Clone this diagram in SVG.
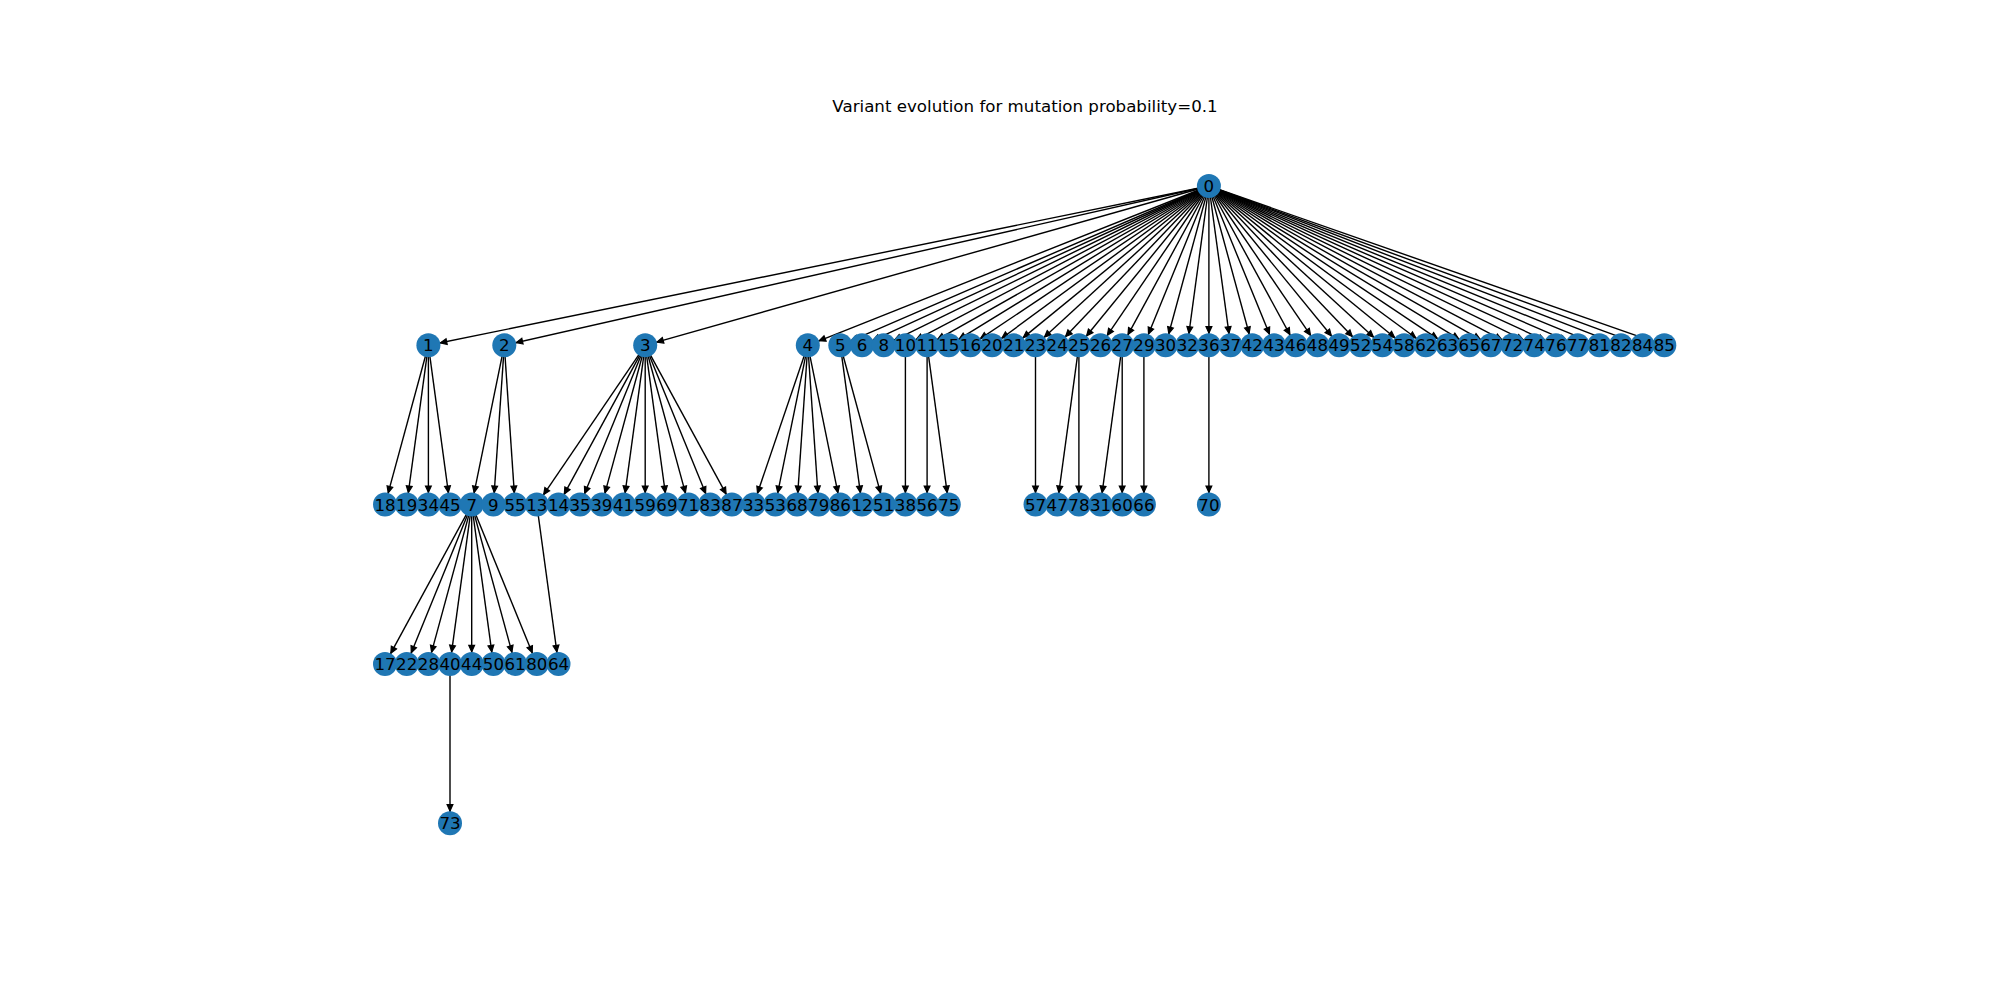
<svg xmlns="http://www.w3.org/2000/svg" width="2000" height="1000" viewBox="0 0 2000 1000">
<style>
.n circle{fill:#1f77b4}
.n text{font-family:"DejaVu Sans","Liberation Sans",sans-serif;font-size:16.67px;fill:#000;text-anchor:middle}
#edges line{stroke:#000;stroke-width:1.4;fill:none;marker-end:url(#ah)}
.title{font-family:"DejaVu Sans","Liberation Sans",sans-serif;font-size:16.67px;fill:#000;text-anchor:middle}
</style>
<defs>
<marker id="ah" markerUnits="userSpaceOnUse" orient="auto" refX="0" refY="0" markerWidth="1" markerHeight="1" overflow="visible">
<path d="M-18.6,-2.9 L-12.2,0 L-18.6,2.9 Z" fill="#000" stroke="#000" stroke-width="1.2" stroke-linejoin="miter"/>
</marker>
</defs>
<rect width="2000" height="1000" fill="#fff"/>
<text class="title" x="1025" y="112">Variant evolution for mutation probability=0.1</text>
<g id="edges">
<line x1="1208.9" y1="186" x2="428.4" y2="345.3"/>
<line x1="1208.9" y1="186" x2="504.3" y2="345.3"/>
<line x1="1208.9" y1="186" x2="645.2" y2="345.3"/>
<line x1="1208.9" y1="186" x2="807.8" y2="345.3"/>
<line x1="1208.9" y1="186" x2="840.3" y2="345.3"/>
<line x1="1208.9" y1="186" x2="862.0" y2="345.3"/>
<line x1="1208.9" y1="186" x2="883.7" y2="345.3"/>
<line x1="1208.9" y1="186" x2="905.4" y2="345.3"/>
<line x1="1208.9" y1="186" x2="927.1" y2="345.3"/>
<line x1="1208.9" y1="186" x2="948.8" y2="345.3"/>
<line x1="1208.9" y1="186" x2="970.4" y2="345.3"/>
<line x1="1208.9" y1="186" x2="992.1" y2="345.3"/>
<line x1="1208.9" y1="186" x2="1013.8" y2="345.3"/>
<line x1="1208.9" y1="186" x2="1035.5" y2="345.3"/>
<line x1="1208.9" y1="186" x2="1057.2" y2="345.3"/>
<line x1="1208.9" y1="186" x2="1078.9" y2="345.3"/>
<line x1="1208.9" y1="186" x2="1100.5" y2="345.3"/>
<line x1="1208.9" y1="186" x2="1122.2" y2="345.3"/>
<line x1="1208.9" y1="186" x2="1143.9" y2="345.3"/>
<line x1="1208.9" y1="186" x2="1165.6" y2="345.3"/>
<line x1="1208.9" y1="186" x2="1187.3" y2="345.3"/>
<line x1="1208.9" y1="186" x2="1208.9" y2="345.3"/>
<line x1="1208.9" y1="186" x2="1230.6" y2="345.3"/>
<line x1="1208.9" y1="186" x2="1252.3" y2="345.3"/>
<line x1="1208.9" y1="186" x2="1274.0" y2="345.3"/>
<line x1="1208.9" y1="186" x2="1295.7" y2="345.3"/>
<line x1="1208.9" y1="186" x2="1317.4" y2="345.3"/>
<line x1="1208.9" y1="186" x2="1339.1" y2="345.3"/>
<line x1="1208.9" y1="186" x2="1360.7" y2="345.3"/>
<line x1="1208.9" y1="186" x2="1382.4" y2="345.3"/>
<line x1="1208.9" y1="186" x2="1404.1" y2="345.3"/>
<line x1="1208.9" y1="186" x2="1425.8" y2="345.3"/>
<line x1="1208.9" y1="186" x2="1447.5" y2="345.3"/>
<line x1="1208.9" y1="186" x2="1469.2" y2="345.3"/>
<line x1="1208.9" y1="186" x2="1490.8" y2="345.3"/>
<line x1="1208.9" y1="186" x2="1512.5" y2="345.3"/>
<line x1="1208.9" y1="186" x2="1534.2" y2="345.3"/>
<line x1="1208.9" y1="186" x2="1555.9" y2="345.3"/>
<line x1="1208.9" y1="186" x2="1577.6" y2="345.3"/>
<line x1="1208.9" y1="186" x2="1599.3" y2="345.3"/>
<line x1="1208.9" y1="186" x2="1620.9" y2="345.3"/>
<line x1="1208.9" y1="186" x2="1642.6" y2="345.3"/>
<line x1="1208.9" y1="186" x2="1664.3" y2="345.3"/>
<line x1="428.4" y1="345.3" x2="385.0" y2="504.6"/>
<line x1="428.4" y1="345.3" x2="406.7" y2="504.6"/>
<line x1="428.4" y1="345.3" x2="428.4" y2="504.6"/>
<line x1="428.4" y1="345.3" x2="450.0" y2="504.6"/>
<line x1="504.3" y1="345.3" x2="471.7" y2="504.6"/>
<line x1="504.3" y1="345.3" x2="493.4" y2="504.6"/>
<line x1="504.3" y1="345.3" x2="515.1" y2="504.6"/>
<line x1="645.2" y1="345.3" x2="536.8" y2="504.6"/>
<line x1="645.2" y1="345.3" x2="558.5" y2="504.6"/>
<line x1="645.2" y1="345.3" x2="580.1" y2="504.6"/>
<line x1="645.2" y1="345.3" x2="601.8" y2="504.6"/>
<line x1="645.2" y1="345.3" x2="623.5" y2="504.6"/>
<line x1="645.2" y1="345.3" x2="645.2" y2="504.6"/>
<line x1="645.2" y1="345.3" x2="666.9" y2="504.6"/>
<line x1="645.2" y1="345.3" x2="688.6" y2="504.6"/>
<line x1="645.2" y1="345.3" x2="710.2" y2="504.6"/>
<line x1="645.2" y1="345.3" x2="731.9" y2="504.6"/>
<line x1="807.8" y1="345.3" x2="753.6" y2="504.6"/>
<line x1="807.8" y1="345.3" x2="775.3" y2="504.6"/>
<line x1="807.8" y1="345.3" x2="797.0" y2="504.6"/>
<line x1="807.8" y1="345.3" x2="818.7" y2="504.6"/>
<line x1="807.8" y1="345.3" x2="840.3" y2="504.6"/>
<line x1="840.3" y1="345.3" x2="862.0" y2="504.6"/>
<line x1="840.3" y1="345.3" x2="883.7" y2="504.6"/>
<line x1="905.4" y1="345.3" x2="905.4" y2="504.6"/>
<line x1="927.1" y1="345.3" x2="927.1" y2="504.6"/>
<line x1="927.1" y1="345.3" x2="948.8" y2="504.6"/>
<line x1="1035.5" y1="345.3" x2="1035.5" y2="504.6"/>
<line x1="1078.9" y1="345.3" x2="1057.2" y2="504.6"/>
<line x1="1078.9" y1="345.3" x2="1078.9" y2="504.6"/>
<line x1="1122.2" y1="345.3" x2="1100.5" y2="504.6"/>
<line x1="1122.2" y1="345.3" x2="1122.2" y2="504.6"/>
<line x1="1143.9" y1="345.3" x2="1143.9" y2="504.6"/>
<line x1="1208.9" y1="345.3" x2="1208.9" y2="504.6"/>
<line x1="471.7" y1="504.6" x2="385.0" y2="663.9"/>
<line x1="471.7" y1="504.6" x2="406.7" y2="663.9"/>
<line x1="471.7" y1="504.6" x2="428.4" y2="663.9"/>
<line x1="471.7" y1="504.6" x2="450.0" y2="663.9"/>
<line x1="471.7" y1="504.6" x2="471.7" y2="663.9"/>
<line x1="471.7" y1="504.6" x2="493.4" y2="663.9"/>
<line x1="471.7" y1="504.6" x2="515.1" y2="663.9"/>
<line x1="471.7" y1="504.6" x2="536.8" y2="663.9"/>
<line x1="536.8" y1="504.6" x2="558.5" y2="663.9"/>
<line x1="450.0" y1="663.9" x2="450.0" y2="823.2"/>
</g>
<g id="nodes">
<g id="n0" class="n"><circle cx="1208.9" cy="186" r="12"/><text x="1208.9" y="192">0</text></g>
<g id="n1" class="n"><circle cx="428.4" cy="345.3" r="12"/><text x="428.4" y="351.3">1</text></g>
<g id="n2" class="n"><circle cx="504.3" cy="345.3" r="12"/><text x="504.3" y="351.3">2</text></g>
<g id="n3" class="n"><circle cx="645.2" cy="345.3" r="12"/><text x="645.2" y="351.3">3</text></g>
<g id="n4" class="n"><circle cx="807.8" cy="345.3" r="12"/><text x="807.8" y="351.3">4</text></g>
<g id="n5" class="n"><circle cx="840.3" cy="345.3" r="12"/><text x="840.3" y="351.3">5</text></g>
<g id="n6" class="n"><circle cx="862.0" cy="345.3" r="12"/><text x="862.0" y="351.3">6</text></g>
<g id="n8" class="n"><circle cx="883.7" cy="345.3" r="12"/><text x="883.7" y="351.3">8</text></g>
<g id="n10" class="n"><circle cx="905.4" cy="345.3" r="12"/><text x="905.4" y="351.3">10</text></g>
<g id="n11" class="n"><circle cx="927.1" cy="345.3" r="12"/><text x="927.1" y="351.3">11</text></g>
<g id="n15" class="n"><circle cx="948.8" cy="345.3" r="12"/><text x="948.8" y="351.3">15</text></g>
<g id="n16" class="n"><circle cx="970.4" cy="345.3" r="12"/><text x="970.4" y="351.3">16</text></g>
<g id="n20" class="n"><circle cx="992.1" cy="345.3" r="12"/><text x="992.1" y="351.3">20</text></g>
<g id="n21" class="n"><circle cx="1013.8" cy="345.3" r="12"/><text x="1013.8" y="351.3">21</text></g>
<g id="n23" class="n"><circle cx="1035.5" cy="345.3" r="12"/><text x="1035.5" y="351.3">23</text></g>
<g id="n24" class="n"><circle cx="1057.2" cy="345.3" r="12"/><text x="1057.2" y="351.3">24</text></g>
<g id="n25" class="n"><circle cx="1078.9" cy="345.3" r="12"/><text x="1078.9" y="351.3">25</text></g>
<g id="n26" class="n"><circle cx="1100.5" cy="345.3" r="12"/><text x="1100.5" y="351.3">26</text></g>
<g id="n27" class="n"><circle cx="1122.2" cy="345.3" r="12"/><text x="1122.2" y="351.3">27</text></g>
<g id="n29" class="n"><circle cx="1143.9" cy="345.3" r="12"/><text x="1143.9" y="351.3">29</text></g>
<g id="n30" class="n"><circle cx="1165.6" cy="345.3" r="12"/><text x="1165.6" y="351.3">30</text></g>
<g id="n32" class="n"><circle cx="1187.3" cy="345.3" r="12"/><text x="1187.3" y="351.3">32</text></g>
<g id="n36" class="n"><circle cx="1208.9" cy="345.3" r="12"/><text x="1208.9" y="351.3">36</text></g>
<g id="n37" class="n"><circle cx="1230.6" cy="345.3" r="12"/><text x="1230.6" y="351.3">37</text></g>
<g id="n42" class="n"><circle cx="1252.3" cy="345.3" r="12"/><text x="1252.3" y="351.3">42</text></g>
<g id="n43" class="n"><circle cx="1274.0" cy="345.3" r="12"/><text x="1274.0" y="351.3">43</text></g>
<g id="n46" class="n"><circle cx="1295.7" cy="345.3" r="12"/><text x="1295.7" y="351.3">46</text></g>
<g id="n48" class="n"><circle cx="1317.4" cy="345.3" r="12"/><text x="1317.4" y="351.3">48</text></g>
<g id="n49" class="n"><circle cx="1339.1" cy="345.3" r="12"/><text x="1339.1" y="351.3">49</text></g>
<g id="n52" class="n"><circle cx="1360.7" cy="345.3" r="12"/><text x="1360.7" y="351.3">52</text></g>
<g id="n54" class="n"><circle cx="1382.4" cy="345.3" r="12"/><text x="1382.4" y="351.3">54</text></g>
<g id="n58" class="n"><circle cx="1404.1" cy="345.3" r="12"/><text x="1404.1" y="351.3">58</text></g>
<g id="n62" class="n"><circle cx="1425.8" cy="345.3" r="12"/><text x="1425.8" y="351.3">62</text></g>
<g id="n63" class="n"><circle cx="1447.5" cy="345.3" r="12"/><text x="1447.5" y="351.3">63</text></g>
<g id="n65" class="n"><circle cx="1469.2" cy="345.3" r="12"/><text x="1469.2" y="351.3">65</text></g>
<g id="n67" class="n"><circle cx="1490.8" cy="345.3" r="12"/><text x="1490.8" y="351.3">67</text></g>
<g id="n72" class="n"><circle cx="1512.5" cy="345.3" r="12"/><text x="1512.5" y="351.3">72</text></g>
<g id="n74" class="n"><circle cx="1534.2" cy="345.3" r="12"/><text x="1534.2" y="351.3">74</text></g>
<g id="n76" class="n"><circle cx="1555.9" cy="345.3" r="12"/><text x="1555.9" y="351.3">76</text></g>
<g id="n77" class="n"><circle cx="1577.6" cy="345.3" r="12"/><text x="1577.6" y="351.3">77</text></g>
<g id="n81" class="n"><circle cx="1599.3" cy="345.3" r="12"/><text x="1599.3" y="351.3">81</text></g>
<g id="n82" class="n"><circle cx="1620.9" cy="345.3" r="12"/><text x="1620.9" y="351.3">82</text></g>
<g id="n84" class="n"><circle cx="1642.6" cy="345.3" r="12"/><text x="1642.6" y="351.3">84</text></g>
<g id="n85" class="n"><circle cx="1664.3" cy="345.3" r="12"/><text x="1664.3" y="351.3">85</text></g>
<g id="n18" class="n"><circle cx="385.0" cy="504.6" r="12"/><text x="385.0" y="510.6">18</text></g>
<g id="n19" class="n"><circle cx="406.7" cy="504.6" r="12"/><text x="406.7" y="510.6">19</text></g>
<g id="n34" class="n"><circle cx="428.4" cy="504.6" r="12"/><text x="428.4" y="510.6">34</text></g>
<g id="n45" class="n"><circle cx="450.0" cy="504.6" r="12"/><text x="450.0" y="510.6">45</text></g>
<g id="n7" class="n"><circle cx="471.7" cy="504.6" r="12"/><text x="471.7" y="510.6">7</text></g>
<g id="n9" class="n"><circle cx="493.4" cy="504.6" r="12"/><text x="493.4" y="510.6">9</text></g>
<g id="n55" class="n"><circle cx="515.1" cy="504.6" r="12"/><text x="515.1" y="510.6">55</text></g>
<g id="n13" class="n"><circle cx="536.8" cy="504.6" r="12"/><text x="536.8" y="510.6">13</text></g>
<g id="n14" class="n"><circle cx="558.5" cy="504.6" r="12"/><text x="558.5" y="510.6">14</text></g>
<g id="n35" class="n"><circle cx="580.1" cy="504.6" r="12"/><text x="580.1" y="510.6">35</text></g>
<g id="n39" class="n"><circle cx="601.8" cy="504.6" r="12"/><text x="601.8" y="510.6">39</text></g>
<g id="n41" class="n"><circle cx="623.5" cy="504.6" r="12"/><text x="623.5" y="510.6">41</text></g>
<g id="n59" class="n"><circle cx="645.2" cy="504.6" r="12"/><text x="645.2" y="510.6">59</text></g>
<g id="n69" class="n"><circle cx="666.9" cy="504.6" r="12"/><text x="666.9" y="510.6">69</text></g>
<g id="n71" class="n"><circle cx="688.6" cy="504.6" r="12"/><text x="688.6" y="510.6">71</text></g>
<g id="n83" class="n"><circle cx="710.2" cy="504.6" r="12"/><text x="710.2" y="510.6">83</text></g>
<g id="n87" class="n"><circle cx="731.9" cy="504.6" r="12"/><text x="731.9" y="510.6">87</text></g>
<g id="n33" class="n"><circle cx="753.6" cy="504.6" r="12"/><text x="753.6" y="510.6">33</text></g>
<g id="n53" class="n"><circle cx="775.3" cy="504.6" r="12"/><text x="775.3" y="510.6">53</text></g>
<g id="n68" class="n"><circle cx="797.0" cy="504.6" r="12"/><text x="797.0" y="510.6">68</text></g>
<g id="n79" class="n"><circle cx="818.7" cy="504.6" r="12"/><text x="818.7" y="510.6">79</text></g>
<g id="n86" class="n"><circle cx="840.3" cy="504.6" r="12"/><text x="840.3" y="510.6">86</text></g>
<g id="n12" class="n"><circle cx="862.0" cy="504.6" r="12"/><text x="862.0" y="510.6">12</text></g>
<g id="n51" class="n"><circle cx="883.7" cy="504.6" r="12"/><text x="883.7" y="510.6">51</text></g>
<g id="n38" class="n"><circle cx="905.4" cy="504.6" r="12"/><text x="905.4" y="510.6">38</text></g>
<g id="n56" class="n"><circle cx="927.1" cy="504.6" r="12"/><text x="927.1" y="510.6">56</text></g>
<g id="n75" class="n"><circle cx="948.8" cy="504.6" r="12"/><text x="948.8" y="510.6">75</text></g>
<g id="n57" class="n"><circle cx="1035.5" cy="504.6" r="12"/><text x="1035.5" y="510.6">57</text></g>
<g id="n47" class="n"><circle cx="1057.2" cy="504.6" r="12"/><text x="1057.2" y="510.6">47</text></g>
<g id="n78" class="n"><circle cx="1078.9" cy="504.6" r="12"/><text x="1078.9" y="510.6">78</text></g>
<g id="n31" class="n"><circle cx="1100.5" cy="504.6" r="12"/><text x="1100.5" y="510.6">31</text></g>
<g id="n60" class="n"><circle cx="1122.2" cy="504.6" r="12"/><text x="1122.2" y="510.6">60</text></g>
<g id="n66" class="n"><circle cx="1143.9" cy="504.6" r="12"/><text x="1143.9" y="510.6">66</text></g>
<g id="n70" class="n"><circle cx="1208.9" cy="504.6" r="12"/><text x="1208.9" y="510.6">70</text></g>
<g id="n17" class="n"><circle cx="385.0" cy="663.9" r="12"/><text x="385.0" y="669.9">17</text></g>
<g id="n22" class="n"><circle cx="406.7" cy="663.9" r="12"/><text x="406.7" y="669.9">22</text></g>
<g id="n28" class="n"><circle cx="428.4" cy="663.9" r="12"/><text x="428.4" y="669.9">28</text></g>
<g id="n40" class="n"><circle cx="450.0" cy="663.9" r="12"/><text x="450.0" y="669.9">40</text></g>
<g id="n44" class="n"><circle cx="471.7" cy="663.9" r="12"/><text x="471.7" y="669.9">44</text></g>
<g id="n50" class="n"><circle cx="493.4" cy="663.9" r="12"/><text x="493.4" y="669.9">50</text></g>
<g id="n61" class="n"><circle cx="515.1" cy="663.9" r="12"/><text x="515.1" y="669.9">61</text></g>
<g id="n80" class="n"><circle cx="536.8" cy="663.9" r="12"/><text x="536.8" y="669.9">80</text></g>
<g id="n64" class="n"><circle cx="558.5" cy="663.9" r="12"/><text x="558.5" y="669.9">64</text></g>
<g id="n73" class="n"><circle cx="450.0" cy="823.2" r="12"/><text x="450.0" y="829.2">73</text></g>
</g>
</svg>
